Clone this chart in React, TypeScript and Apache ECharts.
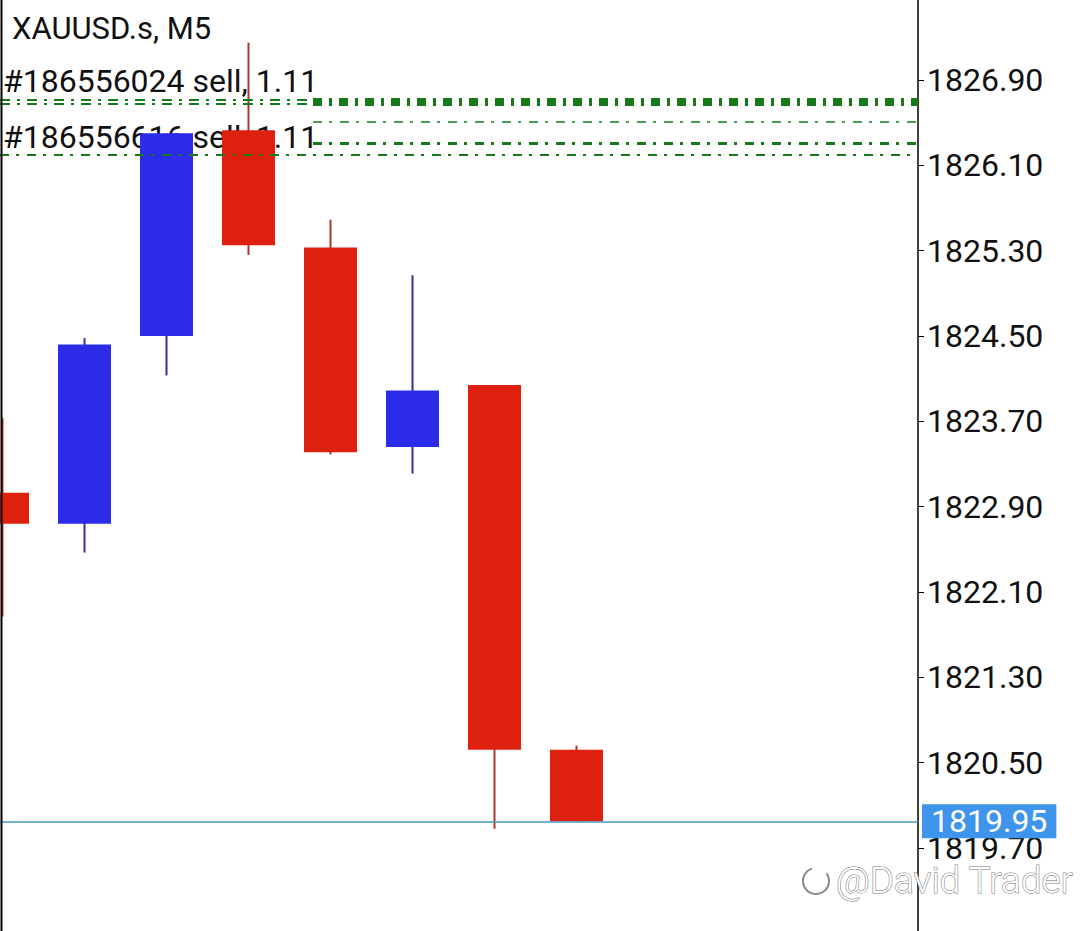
import React, { useEffect, useRef } from "react";
import * as echarts from "echarts";

// ---- data ----
const xIndex = [0, 1, 2, 3, 4, 5, 6, 7];
const opens = [1823.03, 1822.74, 1824.5, 1826.43, 1825.33, 1823.46, 1824.04, 1820.62];
const closes = [1822.74, 1824.42, 1826.4, 1825.35, 1823.41, 1823.99, 1820.62, 1819.95];
const lows = [1821.87, 1822.47, 1824.13, 1825.26, 1823.39, 1823.21, 1819.88, 1819.95];
const highs = [1823.73, 1824.48, 1826.4, 1827.25, 1825.59, 1825.07, 1824.04, 1820.66];
const yTicks = [1819.7, 1820.5, 1821.3, 1822.1, 1822.9, 1823.7, 1824.5, 1825.3, 1826.1, 1826.9];
const lastPrice = 1819.95;
const orderLevels = [1826.694, 1826.506, 1826.309, 1826.197];
const orderLabels = ["#186556024 sell, 1.11", "#186556616 sell, 1.11"];
const title = "XAUUSD.s, M5";
const watermark = "@David Trader";

const Y_MIN = 1818.921875;
const Y_MAX = 1827.65;
const X_MIN = -2.5 / 82;
const X_MAX = 915.5 / 82;
const X_SPLIT = 313 / 82 + X_MIN; // where label area ends

const GREEN = "#177a19";
const FONT = "Roboto";

export default function App() {
  const ref = useRef<HTMLDivElement>(null);
  useEffect(() => {
    if (!ref.current) return;
    const chart = echarts.init(ref.current, undefined, { renderer: "svg" });
    const candles = xIndex.map((x, i) => [x, opens[i], closes[i], lows[i], highs[i]]);

    const seg = (price: number, x0: number, x1: number, width: number, dash: number[]) => [
      { coord: [x0, price], lineStyle: { color: GREEN, width, type: dash } },
      { coord: [x1, price] },
    ];

    const option: any = {
      animation: false,
      backgroundColor: "#ffffff",
      grid: { left: 0, right: 162, top: 0, bottom: 0 },
      xAxis: { type: "value", min: X_MIN, max: X_MAX, show: false },
      yAxis: {
        type: "value",
        position: "right",
        min: Y_MIN,
        max: Y_MAX,
        axisLine: { show: true, onZero: false, lineStyle: { color: "#000", width: 1.5 } },
        axisTick: {
          show: true,
          length: 6,
          customValues: yTicks,
          lineStyle: { color: "#000", width: 1 },
        },
        axisLabel: {
          customValues: yTicks,
          formatter: (v: number) => v.toFixed(2),
          fontSize: 32,
          fontFamily: FONT,
          color: "#111",
          margin: 9,
        },
        splitLine: { show: false },
      },
      graphic: [
        {
          type: "text",
          z: 0,
          x: 12,
          y: 28,
          style: { text: title, font: `31px ${FONT}`, fill: "#111", verticalAlign: "middle" },
        },
        {
          type: "text",
          z: 0,
          x: 3,
          y: 81,
          style: { text: orderLabels[0], font: `32px ${FONT}`, fill: "#111", verticalAlign: "middle" },
        },
        {
          type: "text",
          z: 0,
          x: 3,
          y: 137,
          style: { text: orderLabels[1], font: `32px ${FONT}`, fill: "#111", verticalAlign: "middle" },
        },
        {
          type: "line",
          z: 10,
          shape: { x1: 1.5, y1: 0, x2: 1.5, y2: 931 },
          style: { stroke: "#000", lineWidth: 2 },
        },
        {
          type: "arc",
          z: 10,
          shape: { cx: 816, cy: 881, r: 13, startAngle: -Math.PI * 0.2, endAngle: Math.PI * 1.4 },
          style: { stroke: "#888", lineWidth: 2, fill: "none" },
        },
        {
          type: "text",
          z: 10,
          x: 836,
          y: 880,
          style: {
            text: watermark,
            font: `300 37px ${FONT}`,
            fill: "#ffffff",
            stroke: "#777",
            lineWidth: 1.1,
            verticalAlign: "middle",
          },
        },
      ],
      series: [
        {
          type: "line",
          z: 1,
          data: [],
          markLine: {
            silent: true,
            symbol: ["none", "none"],
            label: { show: false },
            data: [
              seg(orderLevels[0] + 0.02, X_MIN, X_SPLIT, 2, [10, 7, 3, 7]),
              seg(orderLevels[0] - 0.018, X_MIN, X_SPLIT, 2, [10, 7, 3, 7]),
              seg(orderLevels[0], X_SPLIT, X_MAX, 8, [9, 7, 3, 7]),
              seg(orderLevels[1], X_SPLIT, X_MAX, 1.5, [9, 7, 3, 8]),
              seg(orderLevels[2], X_SPLIT, X_MAX, 3, [9, 7, 3, 8]),
              seg(orderLevels[3], X_MIN, X_MAX, 2, [9, 7, 3, 8]),
              [
                {
                  coord: [X_MIN, lastPrice],
                  lineStyle: { color: "#4a96b8", width: 1.5, type: "solid" },
                  label: {
                    show: true,
                    position: "end",
                    formatter: lastPrice.toFixed(2),
                    color: "#fff",
                    fontSize: 32,
                    fontFamily: FONT,
                    backgroundColor: "#3f95ec",
                    padding: [1, 9, 1, 9],
                    distance: 4,
                  },
                },
                { coord: [X_MAX, lastPrice] },
              ],
            ],
          },
        },
        {
          type: "custom",
          z: 3,
          data: candles,
          encode: { x: 0, y: [1, 2, 3, 4] },
          renderItem: (params: any, api: any) => {
            const x = api.value(0);
            const o = api.value(1);
            const c = api.value(2);
            const l = api.value(3);
            const h = api.value(4);
            const pO = api.coord([x, o]);
            const pC = api.coord([x, c]);
            const pL = api.coord([x, l]);
            const pH = api.coord([x, h]);
            const w = api.size([1, 0])[0] * 0.646;
            const up = c >= o;
            const top = Math.min(pO[1], pC[1]);
            const bot = Math.max(pO[1], pC[1]);
            return {
              type: "group",
              children: [
                {
                  type: "line",
                  shape: { x1: pH[0], y1: pH[1], x2: pL[0], y2: pL[1] },
                  style: { stroke: up ? "#30309c" : "#b3342a", lineWidth: 2 },
                },
                {
                  type: "rect",
                  shape: { x: pO[0] - w / 2, y: top, width: w, height: Math.max(1, bot - top) },
                  style: { fill: up ? "#2b2be8" : "#de200e" },
                },
              ],
            };
          },
        },
      ],
    };
    chart.setOption(option);
    return () => chart.dispose();
  }, []);
  return (
    <div
      ref={ref}
      style={{ position: "absolute", left: 0, top: 0, width: 1080, height: 931, background: "#fff" }}
    />
  );
}
